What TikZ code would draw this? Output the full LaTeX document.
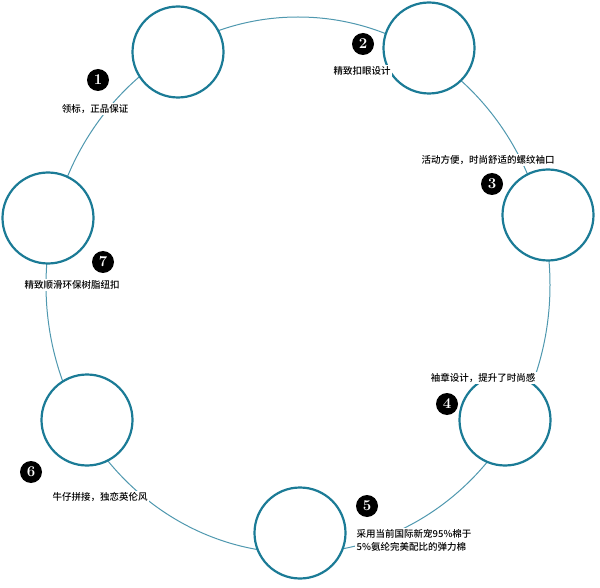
\documentclass[tikz,border=0pt]{standalone}
\usepackage{fontspec}
\newfontfamily\cjk{Noto Sans CJK SC Medium}
\definecolor{ring}{HTML}{1B7B96}
\definecolor{arcc}{HTML}{4F98AF}
\begin{document}
\begin{tikzpicture}[x=1pt,y=-1pt,
  spot/.style={circle,draw=ring,line width=2.2pt,fill=white,minimum size=91pt,inner sep=0},
  badge/.style={circle,fill=black,text=white,minimum size=22pt,inner sep=0,font=\bfseries\fontsize{15}{15}\selectfont},
  lab/.style={fill=white,inner sep=1.5pt,font=\cjk\fontsize{9.5}{13}\selectfont}]
\useasboundingbox (0,0) rectangle (600,588);
\draw[arcc,line width=1pt] (298,285) ellipse [x radius=252, y radius=268];
\node[spot] (c1) at (178,52) {};
\node[spot] (c2) at (429,48) {};
\node[spot] (c3) at (548,215) {};
\node[spot] (c4) at (505,420) {};
\node[spot] (c5) at (300,533) {};
\node[spot] (c6) at (87,420) {};
\node[spot] (c7) at (48,218) {};
\node[badge] (b1) at (98,80) {1};
\node[badge] (b2) at (363,44) {2};
\node[badge] (b3) at (492,184) {3};
\node[badge] (b4) at (447,404) {4};
\node[badge] (b5) at (367,506) {5};
\node[badge] (b6) at (31,472) {6};
\node[badge] (b7) at (103,262) {7};
\node[lab] (l1) at (95,109) {领标，正品保证};
\node[lab] (l2) at (362,71) {精致扣眼设计};
\node[lab] (l3) at (488,160) {活动方便，时尚舒适的螺纹袖口};
\node[lab] (l4) at (483,378) {袖章设计，提升了时尚感};
\node[lab,align=left,anchor=west] (l5) at (355,540) {采用当前国际新宠95\%棉于\\5\%氨纶完美配比的弹力棉};
\node[lab] (l6) at (100,497) {牛仔拼接，独恋英伦风};
\node[lab] (l7) at (72,285) {精致顺滑环保树脂纽扣};
\end{tikzpicture}
\end{document}
